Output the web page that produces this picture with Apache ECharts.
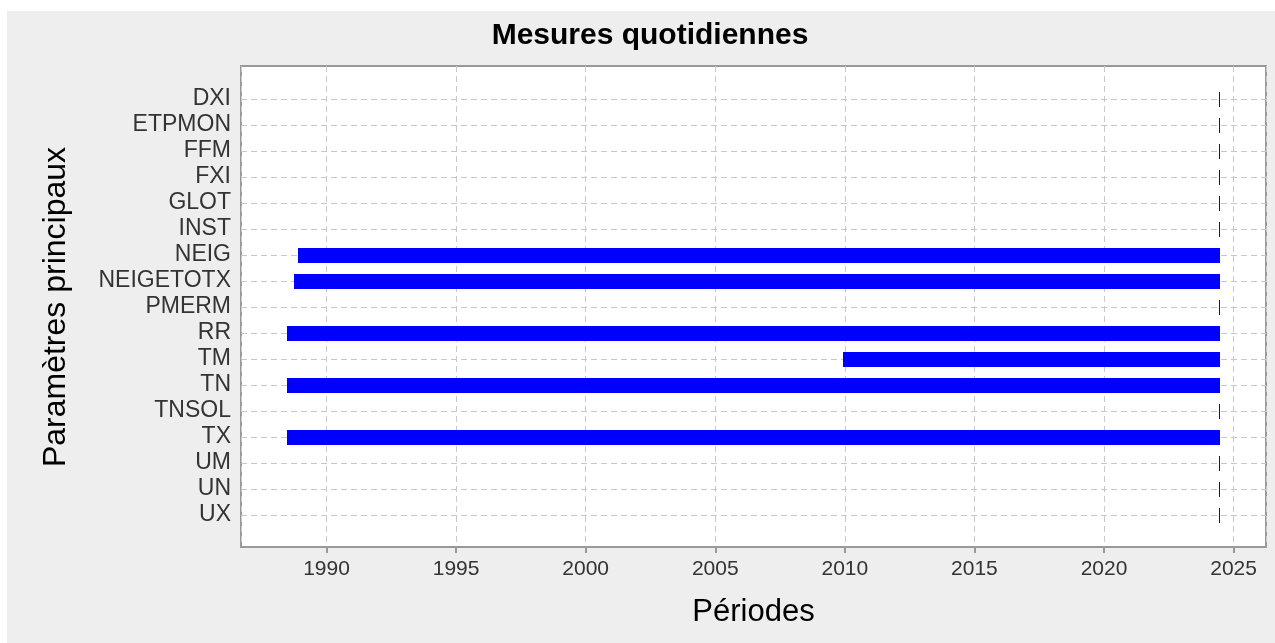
<!DOCTYPE html>
<html>
<head>
<meta charset="utf-8">
<title>Mesures quotidiennes</title>
<script src="https://cdn.jsdelivr.net/npm/echarts@6/dist/echarts.min.js"></script>
<style>
  html, body { margin: 0; padding: 0; background: #fff; }
  #main { width: 1275px; height: 643px; }
</style>
</head>
<body>
<div id="main"></div>
<script>
// parametres (haut -> bas)
var parametres = ['DXI', 'ETPMON', 'FFM', 'FXI', 'GLOT', 'INST', 'NEIG', 'NEIGETOTX',
    'PMERM', 'RR', 'TM', 'TN', 'TNSOL', 'TX', 'UM', 'UN', 'UX'];
// debut / fin des periodes de mesure (annees decimales)
var debuts = [2024.46, 2024.46, 2024.46, 2024.46, 2024.46, 2024.46, 1988.91, 1988.76,
    2024.46, 1988.49, 2009.91, 1988.49, 2024.46, 1988.49, 2024.46, 2024.46, 2024.46];
var fins = [2024.46, 2024.46, 2024.46, 2024.46, 2024.46, 2024.46, 2024.46, 2024.46,
    2024.46, 2024.46, 2024.46, 2024.46, 2024.46, 2024.46, 2024.46, 2024.46, 2024.46];
var anneeMin = 1986.7;
var anneeMax = 2026.25;

var periodes = [];
for (var i = 0; i < parametres.length; i++) {
    periodes.push([debuts[i], fins[i], parametres[i]]);
}

var police = 'Liberation Sans, Arial, sans-serif';
var tirets = { color: '#c8c8c8', type: [6, 4], width: 1 };

var myChart = echarts.init(document.getElementById('main'));

myChart.setOption({
    backgroundColor: '#fff',
    animation: false,
    graphic: [{
        type: 'rect',
        z: -10,
        shape: { x: 7, y: 11, width: 1268, height: 632 },
        style: { fill: '#eeeeee' }
    }],
    title: {
        text: 'Mesures quotidiennes',
        left: 645,
        top: 16,
        textAlign: 'center',
        textStyle: { fontFamily: police, fontWeight: 'bold', fontSize: 30, color: '#000' }
    },
    grid: [
        // cadre du graphique
        { left: 241, right: 9, top: 66, bottom: 96, show: true,
          backgroundColor: '#fff', borderColor: '#999', borderWidth: 2 },
        // lignes des parametres
        { left: 241, right: 9, top: 99, height: 416 }
    ],
    xAxis: [{
        gridIndex: 0,
        type: 'value',
        min: anneeMin,
        max: anneeMax,
        splitNumber: 8,
        name: 'Périodes',
        nameLocation: 'middle',
        nameGap: 50,
        nameTextStyle: { fontFamily: police, fontSize: 31, color: '#000' },
        axisLine: { lineStyle: { color: '#999', width: 2 } },
        axisTick: { lineStyle: { color: '#999', width: 2 }, length: 6 },
        axisLabel: {
            fontFamily: police, fontSize: 21, color: '#333', margin: 12,
            showMinLabel: false, showMaxLabel: false,
            formatter: function (v) { return (Math.abs(v % 5) < 1e-6) ? String(Math.round(v)) : ''; }
        },
        splitLine: { lineStyle: tirets }
    }, {
        gridIndex: 1,
        type: 'value',
        min: anneeMin,
        max: anneeMax,
        show: false
    }],
    yAxis: [{
        gridIndex: 0,
        type: 'value',
        min: 0,
        max: 1,
        show: false
    }, {
        gridIndex: 1,
        type: 'category',
        data: parametres,
        inverse: true,
        boundaryGap: false,
        name: 'Paramètres principaux',
        nameLocation: 'middle',
        nameGap: 169,
        nameTextStyle: { fontFamily: police, fontSize: 32, color: '#000' },
        axisLine: { show: false },
        axisTick: { show: false },
        axisLabel: { interval: 0, fontFamily: police, fontSize: 23, color: '#333', margin: 10 },
        splitLine: { show: true, interval: 0, lineStyle: tirets }
    }],
    series: [{
        type: 'custom',
        xAxisIndex: 1,
        yAxisIndex: 1,
        encode: { x: [0, 1], y: 2 },
        data: periodes,
        renderItem: function (params, api) {
            var cat = api.value(2);
            var p0 = api.coord([api.value(0), cat]);
            var p1 = api.coord([api.value(1), cat]);
            var h = 15;
            var x1 = Math.round(p1[0]);
            var x0 = Math.min(Math.round(p0[0]), x1 - 1);
            return {
                type: 'rect',
                shape: { x: x0, y: Math.round(p0[1] - h / 2), width: x1 - x0, height: h },
                style: { fill: '#0000ff' }
            };
        }
    }]
});
</script>
</body>
</html>
